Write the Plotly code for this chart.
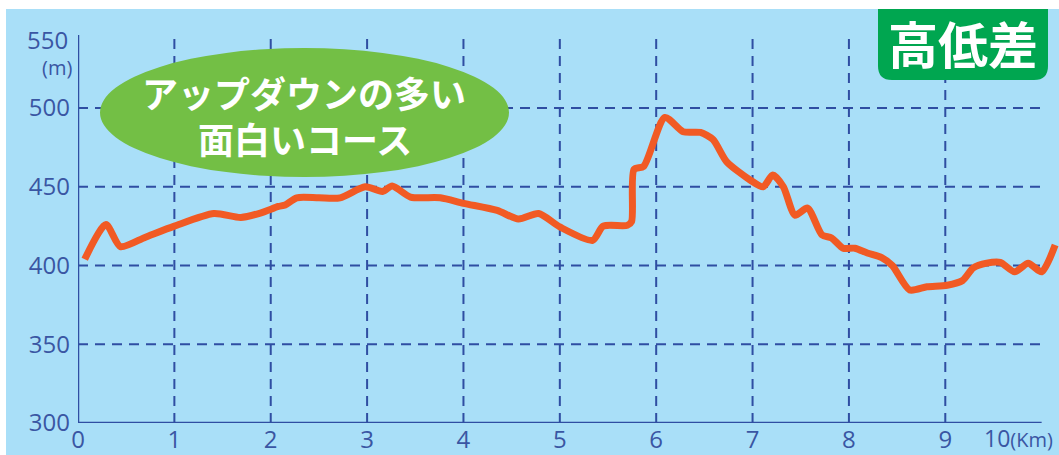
import plotly.graph_objects as go

# ---- data ----
km = [0.07, 0.29, 0.44, 0.70, 1.00, 1.41, 1.69, 1.90, 2.08, 2.15, 2.27, 2.50, 2.72,
      2.98, 3.16, 3.26, 3.45, 3.76, 4.00, 4.35, 4.57, 4.78, 5.00, 5.34, 5.45, 5.70,
      5.745, 5.77, 5.87, 6.09, 6.28, 6.46, 6.59, 6.73, 6.97, 7.11, 7.21, 7.32, 7.44,
      7.57, 7.72, 7.82, 7.94, 8.06, 8.19, 8.34, 8.45, 8.63, 8.81, 9.02, 9.18, 9.29,
      9.43, 9.57, 9.72, 9.86, 10.00, 10.14]
elev = [404, 426, 412, 418, 425, 433, 430.5, 433.5, 437.5, 438.5, 443, 443, 443,
        450, 447, 450.5, 443.5, 443, 439.5, 435, 429.5, 433, 424.5, 416, 425, 425.5,
        428, 461, 463, 494, 485, 484.5, 480, 466, 454.5, 450, 457.5, 450, 432,
        436.5, 419.5, 417.5, 411, 411, 408, 405, 400, 384.5, 386.5, 387.5, 390.5, 398.5,
        401.5, 402, 396, 401.5, 396, 413]

y_ticks = [300, 350, 400, 450, 500]
x_ticks = [0, 1, 2, 3, 4, 5, 6, 7, 8, 9]
x_grid = [1, 2, 3, 4, 5, 6, 7, 8, 9]
y_grid = [350, 400, 450, 500]
x_max_label = "10"
y_max_label = "550"
unit_y = "(m)"
unit_x = "(Km)"
badge_text = "高低差"
bubble_lines = ["アップダウンの多い", "面白いコース"]

# ---- layout geometry ----
W, H = 1059, 455
L, R, T, B = 78, 0, 35, 32
PW, PH = W - L - R, H - T - B
X_RANGE = [0, 10.18]
Y_RANGE = [300, 546.4]


def px(x):
    return (x - L) / PW


def py(y):
    return (H - B - y) / PH


BG = "#a9dff8"
NAVY = "#2f4ea2"
TXT = "#3a56a3"
ORANGE = "#f15a24"

fig = go.Figure()
fig.add_trace(go.Scatter(
    x=km, y=elev, mode="lines",
    line=dict(color=ORANGE, width=7, shape="spline", smoothing=0.7),
    hoverinfo="skip", showlegend=False,
))

shapes = []
# dashed grid
for g in y_grid:
    shapes.append(dict(type="line", xref="x", yref="y", x0=0, x1=10, y0=g, y1=g,
                       line=dict(color=NAVY, width=2, dash="10px,7px"), layer="below"))
for g in x_grid:
    shapes.append(dict(type="line", xref="x", yref="y", x0=g, x1=g, y0=300, y1=Y_RANGE[1] - 2,
                       line=dict(color=NAVY, width=2, dash="10px,7px"), layer="below"))
# axes lines
shapes.append(dict(type="line", xref="x", yref="y", x0=0, x1=10, y0=300, y1=300,
                   line=dict(color=NAVY, width=2.5), layer="below"))
shapes.append(dict(type="line", xref="x", yref="y", x0=0, x1=0, y0=300, y1=Y_RANGE[1],
                   line=dict(color=NAVY, width=2.5), layer="below"))
# white frame top/left
shapes.append(dict(type="rect", xref="paper", yref="paper", x0=px(0), x1=px(W), y0=py(9), y1=py(0),
                   fillcolor="white", line=dict(width=0), layer="above"))
shapes.append(dict(type="rect", xref="paper", yref="paper", x0=px(0), x1=px(6), y0=py(H), y1=py(0),
                   fillcolor="white", line=dict(width=0), layer="above"))
# green ellipse
shapes.append(dict(type="circle", xref="paper", yref="paper", x0=px(100), x1=px(509),
                   y0=py(177), y1=py(48), fillcolor="#73bf45", line=dict(width=0), layer="above"))
# badge with rounded bottom corners
bx0, bx1, by0, by1, r = 878, 1048, 9, 80, 14
path = (f"M {px(bx0)},{py(by0)} L {px(bx1)},{py(by0)} L {px(bx1)},{py(by1 - r)} "
        f"Q {px(bx1)},{py(by1)} {px(bx1 - r)},{py(by1)} L {px(bx0 + r)},{py(by1)} "
        f"Q {px(bx0)},{py(by1)} {px(bx0)},{py(by1 - r)} Z")
shapes.append(dict(type="path", xref="paper", yref="paper", path=path,
                   fillcolor="#00a650", line=dict(width=0), layer="above"))

annotations = [
    dict(xref="paper", yref="paper", x=px(70), y=py(40), text=y_max_label, showarrow=False,
         xanchor="right", yanchor="middle", font=dict(family="Open Sans", size=24, color=TXT)),
    dict(xref="paper", yref="paper", x=px(57), y=py(67), text=unit_y, showarrow=False,
         xanchor="center", yanchor="middle", font=dict(family="Open Sans", size=20, color=TXT)),
    dict(xref="paper", yref="paper", x=px(1055), y=py(438), text=x_max_label +
         f"<span style='font-size:20px'>{unit_x}</span>", showarrow=False,
         xanchor="right", yanchor="middle", font=dict(family="Open Sans", size=23, color=TXT)),
    dict(xref="paper", yref="paper", x=px(963), y=py(42), text=badge_text, showarrow=False,
         xanchor="center", yanchor="middle",
         font=dict(family="Noto Sans CJK JP", size=50, color="white", weight="bold")),
    dict(xref="paper", yref="paper", x=px(304), y=py(92), text=bubble_lines[0], showarrow=False,
         xanchor="center", yanchor="middle",
         font=dict(family="Noto Sans CJK JP", size=36, color="white", weight="bold")),
    dict(xref="paper", yref="paper", x=px(305), y=py(138), text=bubble_lines[1], showarrow=False,
         xanchor="center", yanchor="middle",
         font=dict(family="Noto Sans CJK JP", size=36, color="white", weight="bold")),
]

fig.update_layout(
    width=W, height=H,
    margin=dict(l=L, r=R, t=T, b=B, pad=0, autoexpand=False),
    paper_bgcolor=BG, plot_bgcolor=BG,
    shapes=shapes, annotations=annotations,
    xaxis=dict(range=X_RANGE, tickvals=x_ticks, ticktext=[str(v) for v in x_ticks],
               showgrid=False, zeroline=False, showline=False, ticks="", automargin=False,
               tickfont=dict(family="Open Sans", size=24, color=TXT), fixedrange=True),
    yaxis=dict(range=Y_RANGE, tickvals=y_ticks, showgrid=False, zeroline=False,
               showline=False, ticks="", ticklabelstandoff=7, automargin=False,
               tickfont=dict(family="Open Sans", size=24, color=TXT), fixedrange=True),
)

fig.write_html("out.html", config={"displayModeBar": False},
               post_script="document.body.style.margin='0';document.body.style.overflow='hidden';")
